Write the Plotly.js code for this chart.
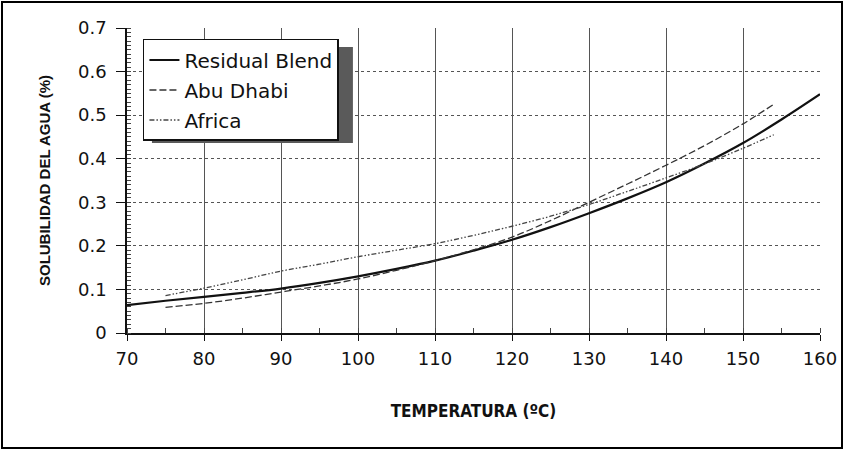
<!DOCTYPE html>
<html>
<head>
<meta charset="utf-8">
<script src="https://cdn.plot.ly/plotly-3.0.1.min.js"></script>
<style>
html,body{margin:0;padding:0;background:#fff;}
#frame{position:absolute;left:1px;top:1px;width:838px;height:444px;border:2px solid #000;}
#chart{position:absolute;left:0;top:0;width:843px;height:450px;}
</style>
</head>
<body>
<div id="frame"></div>
<div id="chart"></div>
<script>
// Data
const residualX = [70, 75, 80, 85, 90, 95, 100, 105, 110, 115, 120, 125, 130, 135, 140, 145, 150, 155, 160];
const residualY = [0.064, 0.074, 0.083, 0.092, 0.102, 0.115, 0.130, 0.147, 0.166, 0.189, 0.214, 0.243, 0.275, 0.309, 0.346, 0.389, 0.436, 0.490, 0.548];

const abuDhabiX = [75, 80, 85, 90, 95, 100, 105, 110, 115, 120, 125, 130, 135, 140, 145, 150, 154];
const abuDhabiY = [0.059, 0.068, 0.080, 0.094, 0.108, 0.124, 0.144, 0.166, 0.191, 0.220, 0.258, 0.300, 0.342, 0.385, 0.430, 0.480, 0.525];

const africaX = [75, 80, 85, 90, 95, 100, 105, 110, 115, 120, 125, 130, 135, 140, 145, 150, 154];
const africaY = [0.086, 0.103, 0.122, 0.142, 0.158, 0.175, 0.190, 0.205, 0.224, 0.245, 0.268, 0.295, 0.325, 0.356, 0.388, 0.424, 0.455];

const seriesNames = ['Residual Blend', 'Abu Dhabi', 'Africa'];
const xTicks = [70, 80, 90, 100, 110, 120, 130, 140, 150, 160];
const yTicks = [0, 0.1, 0.2, 0.3, 0.4, 0.5, 0.6, 0.7];
const yTickText = ['0', '0.1', '0.2', '0.3', '0.4', '0.5', '0.6', '0.7'];

const traces = [
  {x: residualX, y: residualY, name: seriesNames[0], legendgroup: 'a', mode: 'lines',
   line: {color: '#111', width: 2.2, shape: 'spline'}},
  {x: abuDhabiX, y: abuDhabiY, name: seriesNames[1], legendgroup: 'b', mode: 'lines',
   line: {color: '#333', width: 1.3, dash: '7px,3px', shape: 'spline'}},
  {x: africaX, y: africaY, name: seriesNames[2], legendgroup: 'c', mode: 'lines',
   line: {color: '#444', width: 1.3, dash: '5px,2px,1.5px,2px,1.5px,2px', shape: 'spline'}}
];

const tickFont = 'DejaVu Sans, Liberation Sans, Arial, sans-serif';

const layout = {
  width: 843, height: 450,
  margin: {l: 127, r: 23, t: 28, b: 117},
  paper_bgcolor: 'rgba(0,0,0,0)',
  plot_bgcolor: '#fff',
  font: {family: tickFont, color: '#111'},
  showlegend: true,
  legend: {
    x: 0.023, y: 0.964, xanchor: 'left', yanchor: 'top',
    bgcolor: '#fff', bordercolor: '#111', borderwidth: 1.5,
    font: {size: 20, color: '#111', family: tickFont},
    tracegroupgap: 1,
    itemwidth: 30
  },
  xaxis: {
    range: [70, 160], tickvals: xTicks, ticktext: xTicks.map(String),
    showgrid: true, gridcolor: '#555', gridwidth: 1,
    zeroline: false, showline: true, linecolor: '#111', linewidth: 2,
    ticks: 'outside', ticklen: 6, tickcolor: '#111', tickwidth: 1,
    ticklabelstandoff: 2,
    minor: {dtick: 5, tick0: 70, ticks: 'inside', ticklen: 5, tickcolor: '#444', showgrid: false},
    tickfont: {size: 18, color: '#111', family: tickFont},
    title: {text: '<b>TEMPERATURA (ºC)</b>', font: {size: 17, family: 'Liberation Sans Narrow, Arial Narrow, DejaVu Sans Condensed, sans-serif', color: '#111'}, standoff: 38}
  },
  yaxis: {
    range: [0, 0.7], tickvals: yTicks, ticktext: yTickText,
    showgrid: true, gridcolor: '#555', gridwidth: 1, griddash: 'dot',
    zeroline: false, showline: true, linecolor: '#111', linewidth: 1.8,
    ticks: 'outside', ticklen: 9, tickcolor: '#111', tickwidth: 1,
    ticklabelstandoff: 6,
    minor: {dtick: 0.01, tick0: 0, ticks: 'inside', ticklen: 4, tickcolor: '#444', showgrid: false},
    tickfont: {size: 18, color: '#111', family: tickFont},
    title: {text: '<b>SOLUBILIDAD DEL AGUA (%)</b>', font: {size: 15, color: '#111', family: 'Liberation Sans, Arial, sans-serif'}, standoff: 24}
  },
  shapes: [
    {type: 'rect', xref: 'paper', yref: 'paper', x0: 0.036, x1: 0.326, y0: 0.623, y1: 0.938,
     fillcolor: '#5a5a5a', line: {width: 0}, layer: 'above'}
  ]
};

Plotly.newPlot('chart', traces, layout, {displayModeBar: false, staticPlot: true});
</script>
</body>
</html>
